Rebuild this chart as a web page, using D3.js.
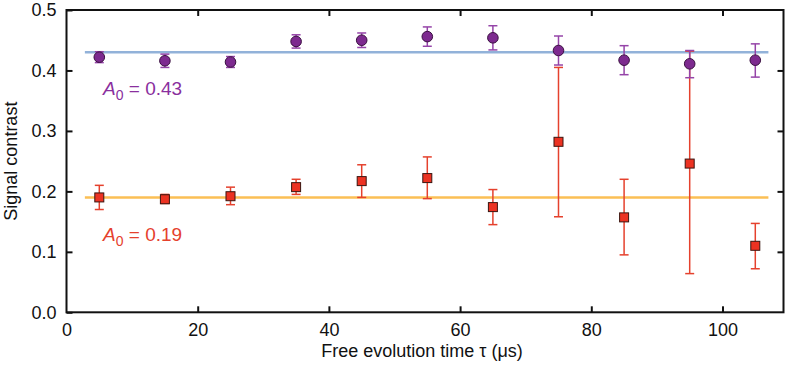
<!DOCTYPE html>
<html>
<head>
<meta charset="utf-8">
<script src="https://cdn.jsdelivr.net/npm/d3@7"></script>
<style>
  body { margin: 0; background: white; }
  svg { font-family: "Liberation Sans", Arial, sans-serif; }
</style>
</head>
<body>
<div id="chart"></div>
<script>
// free evolution times (us)
const tau = [5, 15, 25, 35, 45, 55, 65, 75, 85, 95, 105];

// purple series (circles) and error bar ends
const purpleVal = [0.422, 0.416, 0.414, 0.448, 0.450, 0.456, 0.454, 0.433, 0.417, 0.411, 0.417];
const purpleLo  = [0.413, 0.405, 0.405, 0.437, 0.438, 0.440, 0.434, 0.409, 0.393, 0.388, 0.389];
const purpleHi  = [0.431, 0.427, 0.423, 0.459, 0.462, 0.472, 0.474, 0.457, 0.441, 0.433, 0.444];

// red series (squares) and error bar ends
const redVal = [0.190, 0.187, 0.192, 0.207, 0.217, 0.222, 0.174, 0.282, 0.157, 0.246, 0.110];
const redLo  = [0.170, 0.180, 0.178, 0.195, 0.190, 0.188, 0.145, 0.158, 0.095, 0.064, 0.072];
const redHi  = [0.210, 0.195, 0.207, 0.220, 0.244, 0.257, 0.203, 0.405, 0.220, 0.432, 0.147];

// fitted amplitudes
const fitA0 = [0.43, 0.19];
const fitRange = [2.8, 107];

const xTicks = [0, 20, 40, 60, 80, 100];
const yTicks = [0.0, 0.1, 0.2, 0.3, 0.4, 0.5];

const width = 788, height = 367;
const plot = { left: 66.5, right: 783.5, top: 10, bottom: 312.3 };
const fontSize = 18;

const svg = d3.select("#chart").append("svg")
    .attr("width", width)
    .attr("height", height);

const x = d3.scaleLinear().domain([0, 109.3]).range([plot.left, plot.right]);
const y = d3.scaleLinear().domain([0, 0.5]).range([plot.bottom, plot.top]);

// fit lines
const fitColors = ["#92b2d9", "#fbbf55"];
fitA0.forEach((a, i) => {
    svg.append("line")
        .attr("x1", x(fitRange[0])).attr("x2", x(fitRange[1]))
        .attr("y1", y(a)).attr("y2", y(a))
        .attr("stroke", fitColors[i])
        .attr("stroke-width", 2.5);
});

// error bars
function errorBars(lo, hi, color) {
    const g = svg.append("g").attr("stroke", color).attr("stroke-width", 1.5);
    tau.forEach((t, i) => {
        g.append("line").attr("x1", x(t)).attr("x2", x(t)).attr("y1", y(lo[i])).attr("y2", y(hi[i]));
        g.append("line").attr("x1", x(t) - 4.5).attr("x2", x(t) + 4.5).attr("y1", y(lo[i])).attr("y2", y(lo[i]));
        g.append("line").attr("x1", x(t) - 4.5).attr("x2", x(t) + 4.5).attr("y1", y(hi[i])).attr("y2", y(hi[i]));
    });
}
errorBars(redLo, redHi, "#e5412d");
errorBars(purpleLo, purpleHi, "#9544a8");

// markers
svg.selectAll(".circ")
    .data(tau)
    .enter().append("circle")
    .attr("cx", d => x(d))
    .attr("cy", (d, i) => y(purpleVal[i]))
    .attr("r", 5.3)
    .attr("fill", "#7d2a8f")
    .attr("stroke", "#3a1040")
    .attr("stroke-width", 1);

svg.selectAll(".sq")
    .data(tau)
    .enter().append("rect")
    .attr("x", d => x(d) - 4.5)
    .attr("y", (d, i) => y(redVal[i]) - 4.5)
    .attr("width", 9)
    .attr("height", 9)
    .attr("fill", "#ec3222")
    .attr("stroke", "#3a1510")
    .attr("stroke-width", 1);

// frame
svg.append("rect")
    .attr("x", plot.left).attr("y", plot.top)
    .attr("width", plot.right - plot.left).attr("height", plot.bottom - plot.top)
    .attr("fill", "none").attr("stroke", "#111").attr("stroke-width", 2);

// axes with inward ticks
const xAxis = svg.append("g")
    .attr("transform", `translate(0,${plot.bottom})`)
    .call(d3.axisBottom(x).tickValues(xTicks).tickSize(-6).tickPadding(11).tickFormat(d3.format("d")));
const xTop = svg.append("g")
    .attr("transform", `translate(0,${plot.top})`)
    .call(d3.axisTop(x).tickValues(xTicks.slice(1)).tickSize(-6).tickFormat(""));
const yAxis = svg.append("g")
    .attr("transform", `translate(${plot.left},0)`)
    .call(d3.axisLeft(y).tickValues(yTicks).tickSize(-6).tickPadding(10).tickFormat(d3.format(".1f")));
const yRight = svg.append("g")
    .attr("transform", `translate(${plot.right},0)`)
    .call(d3.axisRight(y).tickValues(yTicks.slice(1, 5)).tickSize(-6).tickFormat(""));

[xAxis, xTop, yAxis, yRight].forEach(g => {
    g.select(".domain").remove();
    g.selectAll(".tick line").attr("stroke", "#111").attr("stroke-width", 2);
    g.selectAll("text").attr("font-size", fontSize).attr("fill", "#111")
        .attr("font-family", "Liberation Sans, Arial, sans-serif");
});
xAxis.select(".tick line").remove();

// axis titles
svg.append("text")
    .attr("x", (plot.left + plot.right) / 2 - 3)
    .attr("y", 357)
    .attr("text-anchor", "middle")
    .attr("font-size", fontSize)
    .attr("fill", "#111")
    .text("Free evolution time τ (μs)");

svg.append("text")
    .attr("transform", `translate(17,${(plot.top + plot.bottom) / 2}) rotate(-90)`)
    .attr("text-anchor", "middle")
    .attr("font-size", fontSize)
    .attr("fill", "#111")
    .text("Signal contrast");

// amplitude labels
const labelColors = ["#8a2f9e", "#e5412d"];
const labelY = [95, 241];
fitA0.forEach((a, i) => {
    const t = svg.append("text")
        .attr("x", 103)
        .attr("y", labelY[i])
        .attr("font-size", 19)
        .attr("fill", labelColors[i]);
    t.append("tspan").attr("font-style", "italic").text("A");
    t.append("tspan").attr("font-size", 14).attr("dy", 5).text("0");
    t.append("tspan").attr("dy", -5).text(" = " + a.toFixed(2));
});
</script>
</body>
</html>
